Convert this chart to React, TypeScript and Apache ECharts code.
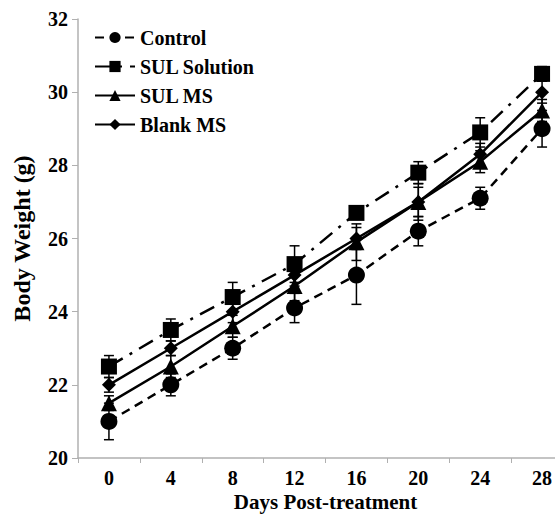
import React, { useEffect, useRef } from "react";
import * as echarts from "echarts";

const days = ["0", "4", "8", "12", "16", "20", "24", "28"];
const seriesNames = ["Control", "SUL Solution", "SUL MS", "Blank MS"];
const control = [21.0, 22.0, 23.0, 24.1, 25.0, 26.2, 27.1, 29.0];
const controlErr = [0.5, 0.3, 0.3, 0.4, 0.8, 0.4, 0.3, 0.5];
const sulSolution = [22.5, 23.5, 24.4, 25.3, 26.7, 27.8, 28.9, 30.5];
const sulSolutionErr = [0.3, 0.3, 0.4, 0.5, 0.15, 0.3, 0.4, 0.2];
const sulMS = [21.5, 22.5, 23.6, 24.7, 25.9, 27.0, 28.1, 29.5];
const sulMSErr = [0.2, 0.3, 0.3, 0.4, 0.5, 0.5, 0.3, 0.3];
const blankMS = [22.0, 23.0, 24.0, 25.0, 26.0, 27.0, 28.3, 30.0];
const blankMSErr = [0.2, 0.2, 0.3, 0.3, 0.3, 0.4, 0.3, 0.3];

const FONT = "Liberation Serif";

export default function App() {
  const ref = useRef<HTMLDivElement>(null);
  useEffect(() => {
    if (!ref.current) return;
    const chart = echarts.init(ref.current, null, { renderer: "svg" });
    const vals = [control, sulSolution, sulMS, blankMS];
    const errs = [controlErr, sulSolutionErr, sulMSErr, blankMSErr];
    const symbols = ["circle", "rect", "triangle", "diamond"];
    const sizes = [17, 16, 16, 14];
    const dashes: any[] = [[9, 6], [16, 8, 3, 8], "solid", "solid"];

    const lineSeries = vals.map((v, i) => ({
      name: seriesNames[i],
      type: "line",
      data: v,
      symbol: symbols[i],
      symbolSize: sizes[i],
      itemStyle: { color: "#000" },
      lineStyle: { color: "#000", width: 2.5, type: dashes[i] },
      z: 3,
    }));

    const errSeries = vals.map((v, i) => ({
      name: seriesNames[i] + " err",
      type: "custom",
      data: v.map((y, k) => [k, y, errs[i][k]]),
      z: 4,
      renderItem: (params: any, api: any) => {
        const x = api.value(0);
        const y = api.value(1);
        const e = api.value(2);
        const hi = api.coord([x, y + e]);
        const lo = api.coord([x, y - e]);
        const cap = 5;
        const style = { stroke: "#000", lineWidth: 1.5 };
        return {
          type: "group",
          children: [
            { type: "line", shape: { x1: hi[0], y1: hi[1], x2: lo[0], y2: lo[1] }, style },
            { type: "line", shape: { x1: hi[0] - cap, y1: hi[1], x2: hi[0] + cap, y2: hi[1] }, style },
            { type: "line", shape: { x1: lo[0] - cap, y1: lo[1], x2: lo[0] + cap, y2: lo[1] }, style },
          ],
        };
      },
    }));

    chart.setOption({
      animation: false,
      backgroundColor: "#fff",
      grid: { left: 78, right: -18, top: 19, bottom: 56, containLabel: false, outerBoundsMode: "none" },
      legend: {
        data: seriesNames,
        orient: "vertical",
        left: 89,
        top: 22,
        itemWidth: 40,
        itemHeight: 14,
        itemGap: 8,
        textStyle: { fontFamily: FONT, fontWeight: "bold", fontSize: 20, color: "#000", lineHeight: 21 },
      },
      xAxis: {
        type: "category",
        data: days,
        boundaryGap: true,
        name: "Days Post-treatment",
        nameLocation: "middle",
        nameGap: 33,
        nameMoveOverlap: false,
        nameTextStyle: { fontFamily: FONT, fontWeight: "bold", fontSize: 21, color: "#000" },
        axisLine: { lineStyle: { color: "#b0b0b0", width: 1.5 } },
        axisTick: { show: true, alignWithLabel: false, length: 5, lineStyle: { color: "#b0b0b0" } },
        axisLabel: { fontFamily: FONT, fontWeight: "bold", fontSize: 20, color: "#000", margin: 10 },
        splitLine: { show: false },
      },
      yAxis: {
        type: "value",
        min: 20,
        max: 32,
        interval: 2,
        name: "Body Weight (g)",
        nameLocation: "middle",
        nameGap: 44,
        nameMoveOverlap: false,
        nameTextStyle: { fontFamily: FONT, fontWeight: "bold", fontSize: 24, color: "#000" },
        axisLine: { show: true, lineStyle: { color: "#b0b0b0", width: 1.5 } },
        axisTick: { show: true, length: 6, lineStyle: { color: "#b0b0b0" } },
        axisLabel: { fontFamily: FONT, fontWeight: "bold", fontSize: 20, color: "#000", margin: 10 },
        splitLine: { show: false },
      },
      series: [...lineSeries, ...errSeries],
    });
    return () => chart.dispose();
  }, []);
  return (
    <div
      ref={ref}
      style={{ position: "fixed", left: 0, top: 0, width: 555, height: 514, background: "#fff" }}
    />
  );
}
